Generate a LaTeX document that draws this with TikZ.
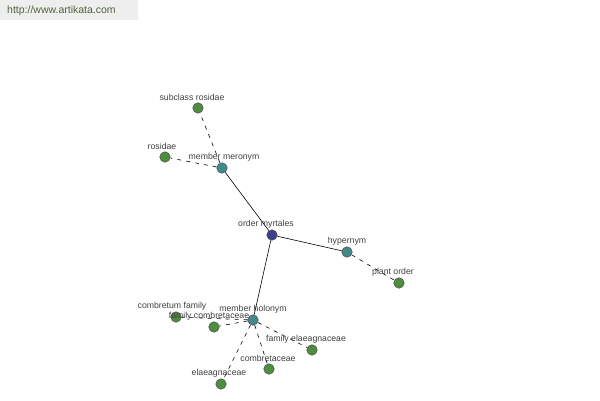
\documentclass[tikz,border=0pt]{standalone}
\usepackage{fontspec}
\setmainfont{Liberation Sans}
\definecolor{leafc}{RGB}{78,140,64}
\definecolor{relc}{RGB}{64,138,138}
\definecolor{rootc}{RGB}{62,62,140}
\definecolor{wmbg}{RGB}{238,238,238}
\definecolor{wmtx}{RGB}{80,100,60}
\tikzset{
  dot/.style={circle,draw=black!70,line width=0.5pt,minimum size=10.5pt,inner sep=0pt},
  leaf/.style={dot,fill=leafc},
  rel/.style={dot,fill=relc},
  root/.style={dot,fill=rootc},
  lbl/.style={font=\fontsize{8.7}{10}\selectfont,text=black!75,inner sep=0pt},
  solidedge/.style={draw=black,line width=0.6pt},
  dashedge/.style={draw=black,line width=0.6pt,dash pattern=on 4pt off 5pt}
}
\begin{document}
\begin{tikzpicture}[x=1pt,y=-1pt]
\useasboundingbox (0,0) rectangle (600,400);
\fill[white] (0,0) rectangle (600,400);
\fill[wmbg] (0,0) rectangle (138,20);
\node[font=\fontsize{10.5}{12}\selectfont,text=wmtx,anchor=west,inner sep=0pt] (wm) at (7,11) {http://www.artikata.com};
% nodes
\node[root] (om) at (272,235) {};
\node[rel] (mm) at (222,168) {};
\node[leaf] (sr) at (198,108) {};
\node[leaf] (ro) at (165,157) {};
\node[rel] (hy) at (347,252) {};
\node[leaf] (po) at (399,283) {};
\node[rel] (mh) at (253,320) {};
\node[leaf] (cf) at (176,317) {};
\node[leaf] (fc) at (214,327) {};
\node[leaf] (fe) at (312,350) {};
\node[leaf] (cb) at (269,369) {};
\node[leaf] (el) at (221,384) {};
% edges
\draw[solidedge] (om) -- (mm);
\draw[solidedge] (om) -- (hy);
\draw[solidedge] (om) -- (mh);
\draw[dashedge] (mm) -- (sr);
\draw[dashedge] (mm) -- (ro);
\draw[dashedge] (hy) -- (po);
\draw[dashedge] (mh) -- (cf);
\draw[dashedge] (mh) -- (fc);
\draw[dashedge] (mh) -- (fe);
\draw[dashedge] (mh) -- (cb);
\draw[dashedge] (mh) -- (el);
% labels
\node[lbl] (lom) at (266,224) {order myrtales};
\node[lbl] (lmm) at (224,157) {member meronym};
\node[lbl] (lsr) at (192,97) {subclass rosidae};
\node[lbl] (lro) at (162,146) {rosidae};
\node[lbl] (lhy) at (347,241) {hypernym};
\node[lbl] (lpo) at (393,272) {plant order};
\node[lbl] (lmh) at (253,309) {member holonym};
\node[lbl] (lcf) at (172,306) {combretum family};
\node[lbl] (lfc) at (209,316) {family combretaceae};
\node[lbl] (lfe) at (306,339) {family elaeagnaceae};
\node[lbl] (lcb) at (268,358) {combretaceae};
\node[lbl] (lel) at (219,373) {elaeagnaceae};
\end{tikzpicture}
\end{document}
